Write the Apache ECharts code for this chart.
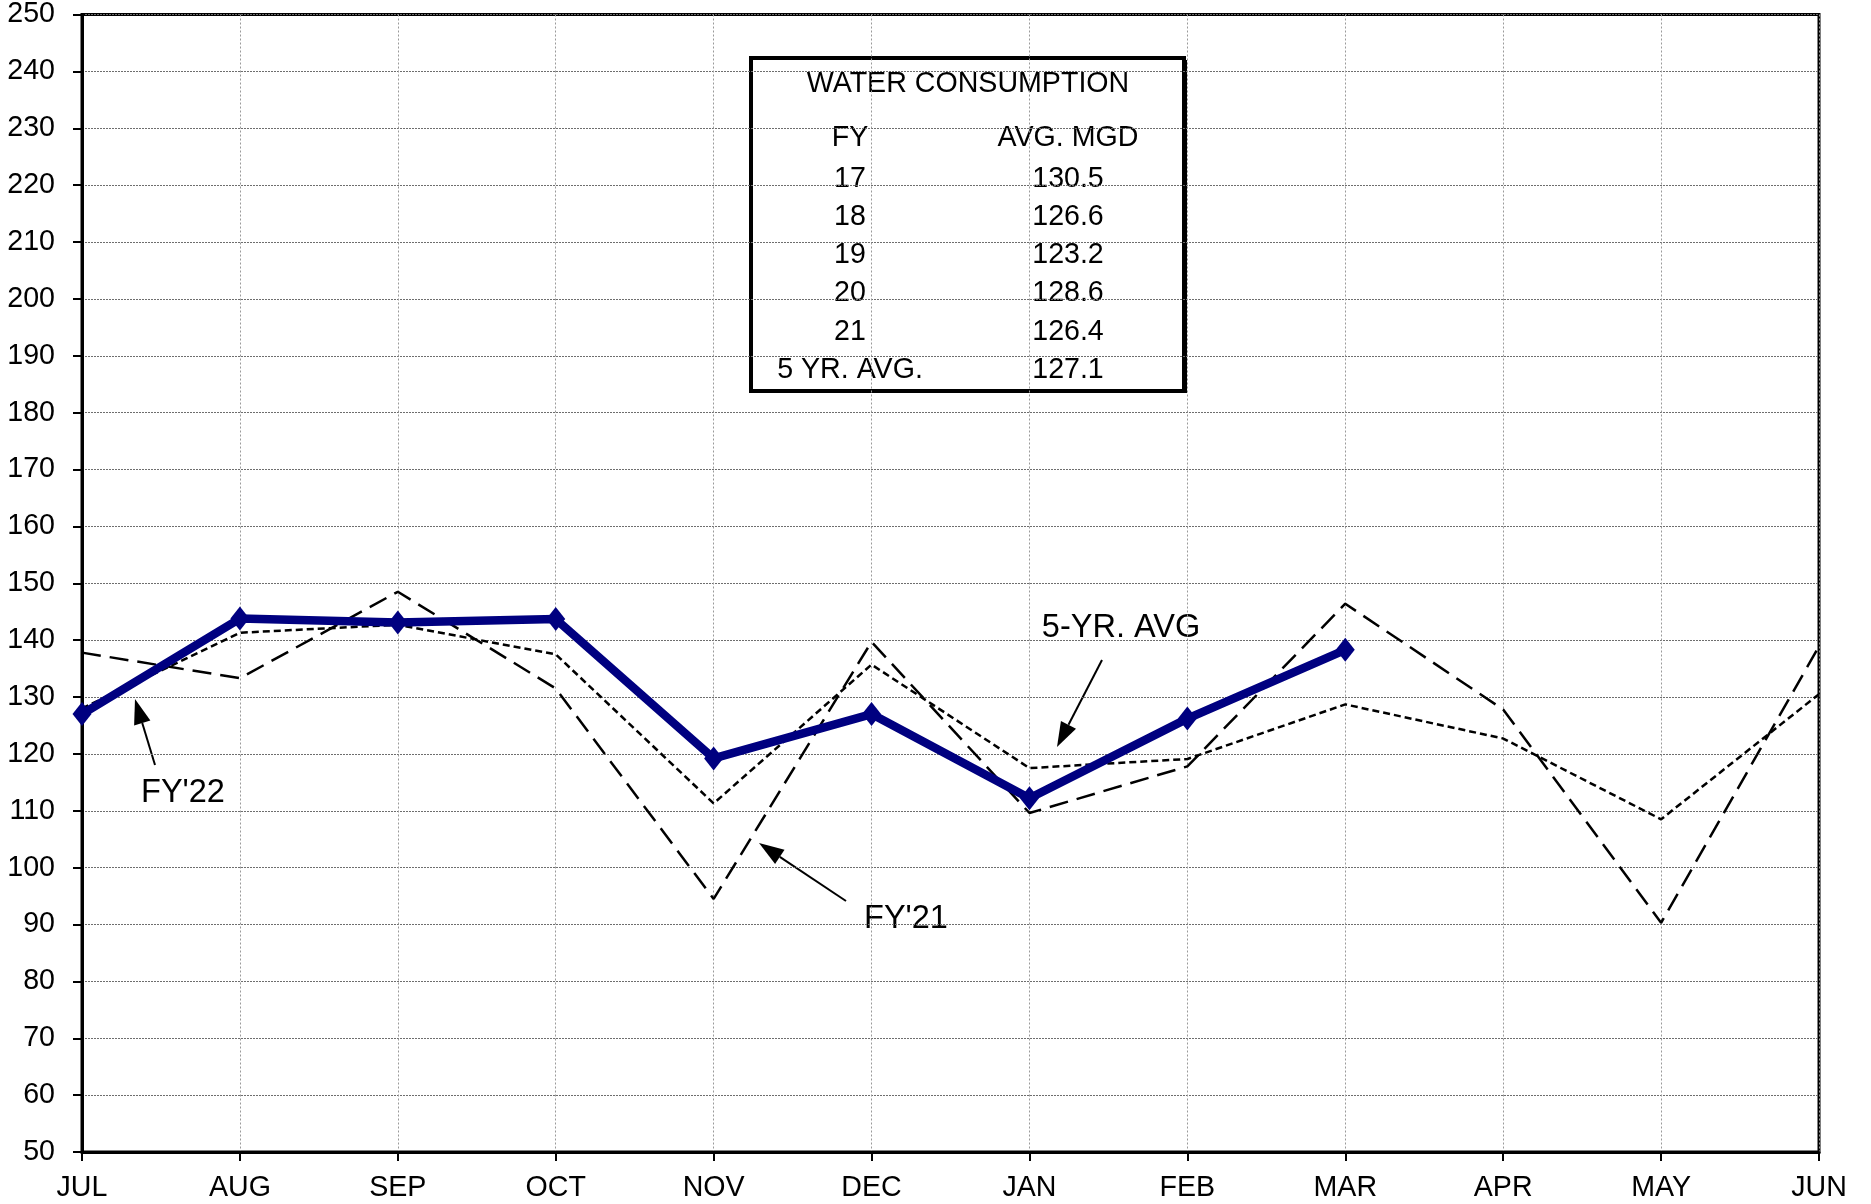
<!DOCTYPE html>
<html>
<head>
<meta charset="utf-8">
<script src="https://cdn.jsdelivr.net/npm/echarts@6/dist/echarts.min.js"></script>
<style>
html,body{margin:0;padding:0;background:#fff;}
#chart{width:1871px;height:1204px;}
</style>
</head>
<body>
<div id="chart"></div>
<script>
// ---- data ----
var months = ['JUL','AUG','SEP','OCT','NOV','DEC','JAN','FEB','MAR','APR','MAY','JUN'];
var fy22 = [127.0, 143.8, 143.1, 143.7, 119.2, 127.0, 112.2, 126.2, 138.3];
var fy21 = [137.8, 133.3, 148.5, 131.5, 94.5, 139.7, 109.6, 117.8, 146.4, 127.8, 90.3, 138.9];
var avg5 = [128.0, 141.3, 142.7, 137.5, 111.3, 135.7, 117.5, 119.1, 128.7, 122.7, 108.5, 130.5];
var tableTitle = 'WATER CONSUMPTION';
var tableHeaders = ['FY', 'AVG. MGD'];
var tableFY = ['17', '18', '19', '20', '21', '5 YR. AVG.'];
var tableMGD = ['130.5', '126.6', '123.2', '128.6', '126.4', '127.1'];
var labelFY22 = "FY'22";
var labelFY21 = "FY'21";
var labelAvg = '5-YR. AVG';

// ---- chart ----
var FONT = "'Liberation Sans', Arial, sans-serif";
var chart = echarts.init(document.getElementById('chart'), null, {renderer: 'canvas'});

function arrow(x1, y1, x2, y2) {
  var dx = x2 - x1, dy = y2 - y1;
  var len = Math.sqrt(dx * dx + dy * dy);
  var ux = dx / len, uy = dy / len;
  var hl = 25, hw = 8.5;
  var bx = x2 - ux * hl, by = y2 - uy * hl;
  return [
    {type: 'line', shape: {x1: x1, y1: y1, x2: bx, y2: by}, style: {stroke: '#000', lineWidth: 2}},
    {type: 'polygon', shape: {points: [[x2, y2], [bx - uy * hw, by + ux * hw], [bx + uy * hw, by - ux * hw]]}, style: {fill: '#000'}}
  ];
}

function textEl(str, x, y, size) {
  return {type: 'text', x: x, y: y, style: {text: str, fill: '#000', font: size + 'px ' + FONT, textAlign: 'center', textVerticalAlign: 'middle'}};
}

var g = [];
// table box
g.push({type: 'rect', shape: {x: 751, y: 58, width: 433, height: 333}, style: {fill: '#fff', stroke: '#000', lineWidth: 4}});
g.push({type: 'line', shape: {x1: 1186, y1: 60, x2: 1186, y2: 393}, style: {stroke: '#000', lineWidth: 2}});
g.push({type: 'line', shape: {x1: 753, y1: 392, x2: 1187, y2: 392}, style: {stroke: '#000', lineWidth: 2}});
g.push(textEl(tableTitle, 968, 84, 28.6));
g.push(textEl(tableHeaders[0], 850, 138, 28.6));
g.push(textEl(tableHeaders[1], 1068, 138, 28.6));
for (var i = 0; i < tableFY.length; i++) {
  var yy = 179 + i * 38.2;
  g.push(textEl(tableFY[i], 850, yy, 28.6));
  g.push(textEl(tableMGD[i], 1068, yy, 28.6));
}
// annotation label boxes
g.push({type: 'rect', shape: {x: 133, y: 765, width: 110, height: 55}, style: {fill: '#fff'}});
g.push({type: 'rect', shape: {x: 858, y: 893, width: 102, height: 52}, style: {fill: '#fff'}});
g.push({type: 'rect', shape: {x: 1033, y: 602, width: 183, height: 56}, style: {fill: '#fff'}});
g.push(textEl(labelFY22, 183, 793, 32.5));
g.push(textEl(labelFY21, 906, 919, 32.5));
g.push(textEl(labelAvg, 1121, 628, 32.5));
g = g.concat(arrow(155, 765, 135, 699));
g = g.concat(arrow(846, 901, 759, 843));
g = g.concat(arrow(1102, 660, 1057, 747));

var option = {
  animation: false,
  backgroundColor: '#fff',
  textStyle: {fontFamily: FONT},
  grid: {left: 82, right: 52, top: 11, bottom: 52, show: true, borderColor: '#000', borderWidth: 3, backgroundColor: 'transparent'},
  xAxis: {
    type: 'category',
    data: months,
    boundaryGap: false,
    axisLine: {show: true, lineStyle: {color: '#000', width: 3}},
    axisTick: {show: true, length: 9, lineStyle: {color: '#000', width: 2}},
    axisLabel: {color: '#000', fontSize: 28.6, fontFamily: FONT, margin: 22, interval: 0},
    splitLine: {show: true, lineStyle: {color: '#9a9a9a', width: 1, type: [2, 2]}}
  },
  yAxis: {
    type: 'value',
    min: 50, max: 250, interval: 10,
    axisLine: {show: true, lineStyle: {color: '#000', width: 3}},
    axisTick: {show: true, length: 9, lineStyle: {color: '#000', width: 2}},
    axisLabel: {color: '#000', fontSize: 28.6, fontFamily: FONT, margin: 27},
    splitLine: {show: true, lineStyle: {color: '#6e6e6e', width: 1, type: [2, 1]}}
  },
  graphic: {elements: g, z: 1},
  series: [
    {
      name: "FY'21", type: 'line', data: fy21, symbol: 'none', z: 2,
      lineStyle: {color: '#000', width: 2.5, type: [19, 9]}
    },
    {
      name: '5-YR. AVG', type: 'line', data: avg5, symbol: 'none', z: 3,
      lineStyle: {color: '#000', width: 2.5, type: [7, 4]}
    },
    {
      name: "FY'22", type: 'line', data: fy22, z: 4,
      symbol: 'diamond', symbolSize: [19, 24],
      itemStyle: {color: '#000080'},
      lineStyle: {color: '#000080', width: 8.5}
    }
  ]
};
chart.setOption(option);
</script>
</body>
</html>
